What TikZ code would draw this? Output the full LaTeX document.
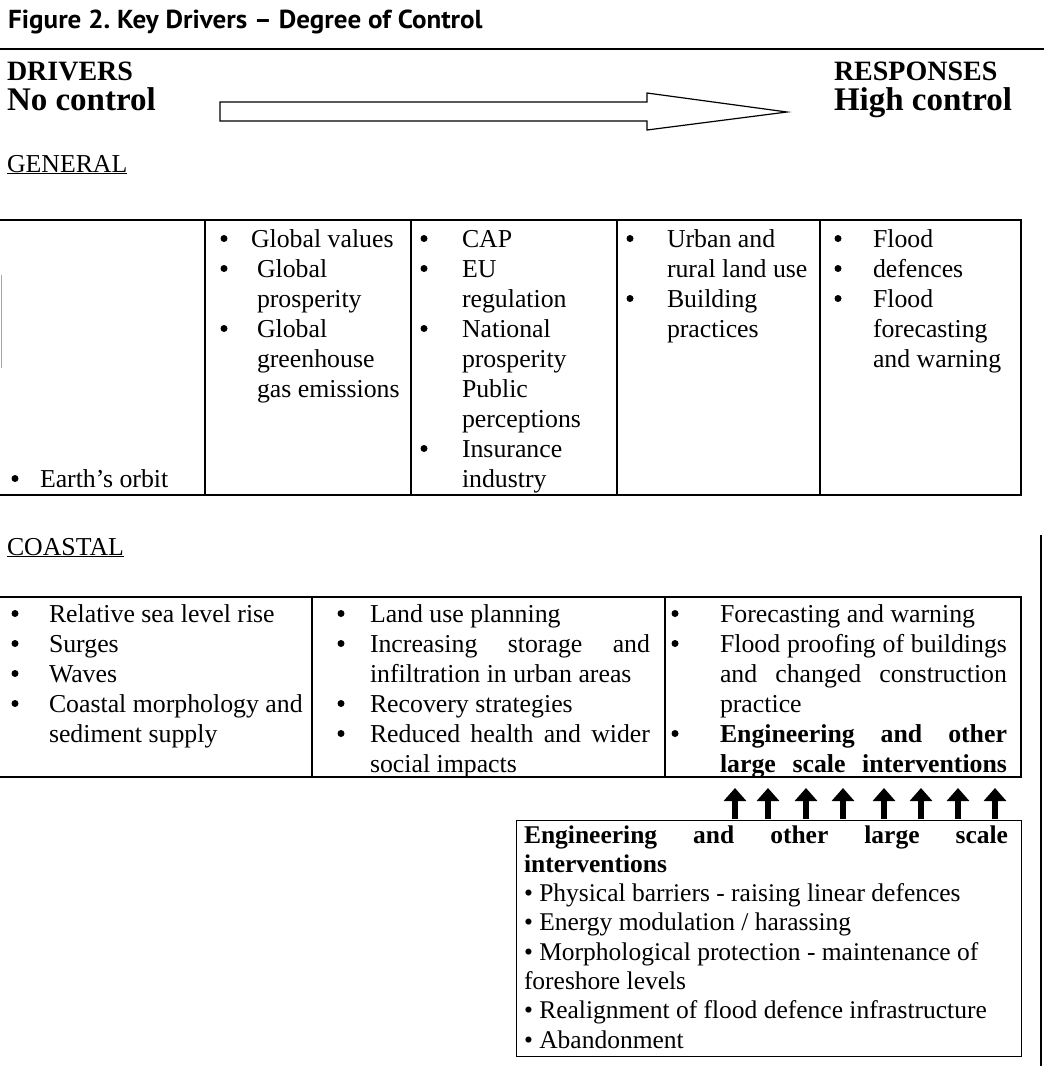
\documentclass[tikz,border=0pt]{standalone}
\usepackage{fontspec}
\setmainfont{Liberation Serif}
\newfontfamily\titlefont{PT Sans}
\usetikzlibrary{arrows.meta}

\newcommand\bodysize{\fontsize{25.8}{30}\selectfont}
\newcommand\boxsize{\fontsize{25.5}{29}\selectfont}
\newcommand\headsize{\fontsize{28}{32}\selectfont}
\newcommand\ctrlsize{\fontsize{33}{37}\selectfont}

\begin{document}
\begin{tikzpicture}[x=1pt,y=-1pt,
  txt/.style={anchor=base west,inner sep=0pt,outer sep=0pt,font=\bodysize},
  btxt/.style={anchor=base west,inner sep=0pt,outer sep=0pt,font=\boxsize},
  dot/.style={circle,fill=black,inner sep=0pt,minimum size=7pt,yshift=8.5pt},
  frame/.style={draw=black,line width=1.4pt},
  rule/.style={line width=1.5pt},
  uparrow/.style={line width=6pt,-{Triangle[width=22pt,length=13pt]}}]

\fill[white] (0,0) rectangle (1044,1072);
\useasboundingbox (0,0) rectangle (1044,1072);

% ---- title and heading rule ----
\node[anchor=base west,inner sep=0pt,font=\titlefont\bfseries\fontsize{26}{30}\selectfont]
  (title) at (8,28) {\scalebox{1.04}[1]{Figure 2.\ Key Drivers – Degree of Control}};
\draw[rule] (0,49) -- (1044,49);

% ---- degree-of-control scale ----
\node[txt,font=\headsize\bfseries] (drv) at (7,80) {DRIVERS};
\node[txt,font=\ctrlsize\bfseries] (noc) at (7,110) {No control};
\node[txt,font=\headsize\bfseries] (rsp) at (834,80) {RESPONSES};
\node[txt,font=\ctrlsize\bfseries] (hic) at (834,110) {High control};
\draw[line width=1.2pt,line join=miter]
  (220,102) -- (647,102) -- (647,93) -- (787,112) -- (647,130) -- (647,121) -- (220,121) -- cycle;

% ---- GENERAL table ----
\node[txt] (gen) at (7,172) {\underline{GENERAL}};
\draw[frame] (0,220) -- (1021,220) -- (1021,495) -- (0,495);
\draw[gray!70,line width=0.8pt] (1,275) -- (1,368);
\foreach \x in {205,411,617,820} \draw[frame] (\x,220) -- (\x,495);

\node[dot] (g1b) at (15,487) {};
\node[txt] (g1t) at (40,487) {Earth’s orbit};

\foreach \k/\xx/\s in {0/251/Global values,1/257/Global,2/257/prosperity,
    3/257/Global,4/257/greenhouse,5/257/gas emissions}
  \node[txt] (g2-\k) at (\xx,247+30*\k) {\s};
\foreach \k in {0,1,3} \node[dot] (g2b-\k) at (224,247+30*\k) {};

\foreach \k/\s in {0/CAP,1/EU,2/regulation,3/National,4/prosperity,
    5/Public,6/perceptions,7/Insurance,8/industry}
  \node[txt] (g3-\k) at (462,247+30*\k) {\s};
\foreach \k in {0,1,3,7} \node[dot] (g3b-\k) at (424,247+30*\k) {};

\foreach \k/\s in {0/Urban and,1/rural land use,2/Building,3/practices}
  \node[txt] (g4-\k) at (667,247+30*\k) {\s};
\foreach \k in {0,2} \node[dot] (g4b-\k) at (630,247+30*\k) {};

\foreach \k/\s in {0/Flood,1/defences,2/Flood,3/forecasting,4/and warning}
  \node[txt] (g5-\k) at (873,247+30*\k) {\s};
\foreach \k in {0,1,2} \node[dot] (g5b-\k) at (838,247+30*\k) {};

% ---- COASTAL table ----
\node[txt] (coa) at (7,555) {\underline{COASTAL}};
\draw[frame] (0,597) -- (1021,597) -- (1021,777) -- (0,777);
\foreach \x in {312,665} \draw[frame] (\x,597) -- (\x,777);

\foreach \k/\s in {0/Relative sea level rise,1/Surges,2/Waves,
    3/Coastal morphology and,4/sediment supply}
  \node[txt] (c1-\k) at (49,622+30*\k) {\s};
\foreach \k in {0,1,2,3} \node[dot] (c1b-\k) at (15,622+30*\k) {};

\node[txt] (c2-0) at (370,622) {Land use planning};
\node[txt] (c2-1) at (370,652) {\makebox[280pt][s]{Increasing storage and}};
\node[txt] (c2-2) at (370,682) {infiltration in urban areas};
\node[txt] (c2-3) at (370,712) {Recovery strategies};
\node[txt] (c2-4) at (370,742) {\makebox[280pt][s]{Reduced health and wider}};
\node[txt] (c2-5) at (370,772) {social impacts};
\foreach \k in {0,1,3,4} \node[dot] (c2b-\k) at (341,622+30*\k) {};

\node[txt] (c3-0) at (720,622) {Forecasting and warning};
\node[txt] (c3-1) at (720,652) {\makebox[287pt][s]{Flood proofing of buildings}};
\node[txt] (c3-2) at (720,682) {\makebox[287pt][s]{and changed construction}};
\node[txt] (c3-3) at (720,712) {practice};
\node[txt,font=\bodysize\bfseries] (c3-4) at (720,742) {\makebox[287pt][s]{Engineering and other}};
\node[txt,font=\bodysize\bfseries] (c3-5) at (720,772) {\makebox[287pt][s]{large scale interventions}};
\foreach \k in {0,1,4} \node[dot] (c3b-\k) at (675,622+30*\k) {};

% ---- engineering interventions box ----
\node[draw,line width=1.2pt,minimum width=505pt,minimum height=236pt,
  anchor=north west,inner sep=0pt] (eng) at (516,820) {};
\node[btxt,font=\boxsize\bfseries] (e0) at (524,843) {\makebox[484pt][s]{Engineering and other large scale}};
\node[btxt,font=\boxsize\bfseries] (e1) at (524,872.3) {interventions};
\node[btxt] (e2) at (524,901.6) {• Physical barriers - raising linear defences};
\node[btxt] (e3) at (524,930.9) {• Energy modulation / harassing};
\node[btxt] (e4) at (524,960.2) {• Morphological protection - maintenance of};
\node[btxt] (e5) at (524,989.5) {foreshore levels};
\node[btxt] (e6) at (524,1018.8) {• Realignment of flood defence infrastructure};
\node[btxt] (e7) at (524,1048.1) {• Abandonment};

% arrows from the box up to the coastal table
\foreach \x in {735,768,806,843,884,921,958,995}
  \draw[uparrow] (\x,0 |- eng.north) ++(0,-1) -- (\x,788);

% margin line at the right edge
\draw[line width=1.5pt] (1041,535) -- (1041,1066);
\end{tikzpicture}
\end{document}
